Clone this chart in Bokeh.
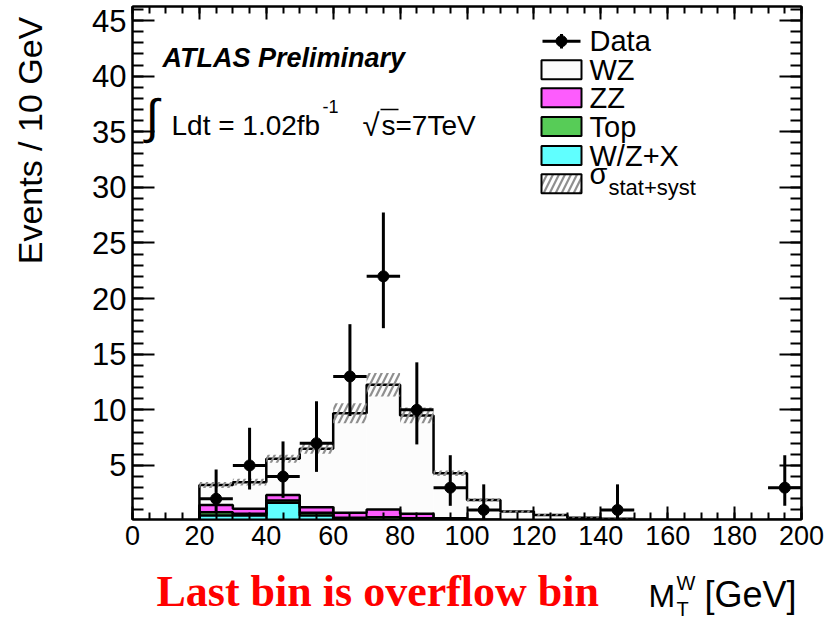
import numpy as np
from bokeh.plotting import figure
from bokeh.layouts import column
from bokeh.models import (Label, LinearAxis, SingleIntervalTicker, Range1d, ColumnDataSource,
                          CustomJSTickFormatter)
from bokeh.embed import file_html
from bokeh.resources import INLINE

# ---------------- data ----------------
bin_lo = [20, 30, 40, 50, 60, 70, 80, 90, 100, 110, 120, 130, 140, 150, 160, 170, 180, 190]
bin_width = 10
data_n = [2, 5, 4, 7, 13, 22, 10, 3, 1, 0, 0, 0, 1, 0, 0, 0, 0, 3]
data_err_lo = [1.29, 2.16, 1.91, 2.58, 3.56, 4.66, 3.11, 1.63, 0.83, 0, 0, 0, 0.83, 0, 0, 0, 0, 1.63]
data_err_hi = [2.64, 3.38, 3.16, 3.77, 4.70, 5.73, 4.27, 2.92, 2.30, 0, 0, 0, 2.30, 0, 0, 0, 0, 2.92]
mc_wzx = [0.5, 0.5, 1.65, 0.5, 0.1, 0.1, 0.05, 0.05, 0.03, 0.02, 0.01, 0.01, 0.01, 0, 0, 0, 0, 0.01]
mc_top = [0.3, 0.15, 0.2, 0.25, 0.2, 0.25, 0.2, 0.1, 0.05, 0.02, 0.01, 0.01, 0.01, 0, 0, 0, 0, 0.01]
mc_zz = [0.65, 0.45, 0.5, 0.5, 0.45, 0.7, 0.4, 0.1, 0.05, 0.03, 0.02, 0.01, 0.01, 0.01, 0.01, 0.01, 0.01, 0.02]
mc_wz = [1.8, 2.4, 3.25, 5.25, 8.95, 11.2, 8.85, 4.05, 1.77, 0.78, 0.51, 0.27, 0.17, 0.09, 0.05, 0.04, 0.04, 0.08]
mc_syst = [0.27, 0.3, 0.35, 0.45, 0.9, 1.05, 0.7, 0.25, 0.15, 0.1, 0.08, 0.05, 0.03, 0.02, 0.01, 0.01, 0.01, 0.02]
x_ticks_interval = 20
y_ticks_interval = 5

# ---------------- layout constants ----------------
W, H = 839, 619
MAIN_H = 560
FL, FR, FT, FB = 132, 801, 6, 519
XMIN, XMAX = 0, 200
YMIN, YMAX = 0.14, 46.26
FONT = "Liberation Sans"


def dx(px):
    return XMIN + (px - FL) / (FR - FL) * (XMAX - XMIN)


def dy(py):
    return YMIN + (FB - py) / (FB - FT) * (YMAX - YMIN)


lo = np.array(bin_lo, dtype=float)
hi = lo + bin_width
c1 = np.array(mc_wzx)
c2 = c1 + np.array(mc_top)
c3 = c2 + np.array(mc_zz)
c4 = c3 + np.array(mc_wz)
syst = np.array(mc_syst)


def step_xy(vals):
    xs = [lo[0]]
    ys = [0.0]
    for l, h, v in zip(lo, hi, vals):
        xs += [l, h]
        ys += [v, v]
    xs.append(hi[-1])
    ys.append(0.0)
    return xs, ys


p = figure(width=W, height=MAIN_H, x_range=Range1d(XMIN, XMAX), y_range=Range1d(YMIN, YMAX),
           output_backend="svg", toolbar_location=None,
           min_border_left=FL, min_border_right=W - FR, min_border_top=FT,
           min_border_bottom=MAIN_H - FB)
p.xgrid.visible = False
p.ygrid.visible = False
p.background_fill_color = "white"
p.border_fill_color = "white"
p.outline_line_color = "black"
p.outline_line_width = 2

C_WZ = "#fcfcfc"
C_ZZ = "#fd5cfd"
C_TOP = "#57cc57"
C_WZX = "#60ffff"
HATCH = dict(hatch_pattern="/", hatch_color="#8f8f8f", hatch_weight=2.2, hatch_scale=12)

# stacked fills
for top_vals, col in [(c4, C_WZ), (c3, C_ZZ), (c2, C_TOP), (c1, C_WZX)]:
    p.quad(left=lo, right=hi, bottom=np.zeros_like(lo), top=top_vals, fill_color=col, line_color=None)
for top_vals in [c4, c3, c2, c1]:
    xs, ys = step_xy(top_vals)
    p.line(xs, ys, line_color="black", line_width=2.5)

# uncertainty band
p.quad(left=lo, right=hi, bottom=c4 - syst, top=c4 + syst, fill_alpha=0, line_color=None, **HATCH)

# data
n = np.array(data_n, dtype=float)
mask = n > 0
cen = (lo + hi) / 2
src = ColumnDataSource(dict(x=cen[mask], y=n[mask], l=lo[mask], h=hi[mask],
                            y0=(n - np.array(data_err_lo))[mask], y1=(n + np.array(data_err_hi))[mask]))
p.segment(x0="l", x1="h", y0="y", y1="y", source=src, line_color="black", line_width=3)
p.segment(x0="x", x1="x", y0="y0", y1="y1", source=src, line_color="black", line_width=3)
p.scatter(x="x", y="y", source=src, size=11, marker="circle", fill_color="black", line_color="black")

# axes
for ax in p.xaxis:
    ax.ticker = SingleIntervalTicker(interval=x_ticks_interval, num_minor_ticks=4)
    ax.major_tick_in = 13
    ax.major_tick_out = 0
    ax.minor_tick_in = 7
    ax.minor_tick_out = 0
    ax.axis_line_width = 2
    ax.major_tick_line_width = 2
    ax.minor_tick_line_width = 2
    ax.major_label_text_font = FONT
    ax.major_label_text_font_size = "27px"
    ax.major_label_text_color = "black"
    ax.major_label_standoff = 6
for ax in p.yaxis:
    ax.ticker = SingleIntervalTicker(interval=y_ticks_interval, num_minor_ticks=5)
    ax.major_tick_in = 22
    ax.major_tick_out = 0
    ax.minor_tick_in = 11
    ax.minor_tick_out = 0
    ax.axis_line_width = 2
    ax.major_tick_line_width = 2
    ax.minor_tick_line_width = 2
    ax.major_label_text_font = FONT
    ax.major_label_text_font_size = "31px"
    ax.major_label_text_color = "black"
    ax.major_label_standoff = 6

blank = CustomJSTickFormatter(code="return ''")
ax_r = LinearAxis(ticker=SingleIntervalTicker(interval=y_ticks_interval, num_minor_ticks=5),
                  major_tick_in=22, major_tick_out=0, minor_tick_in=11, minor_tick_out=0,
                  axis_line_width=2, major_tick_line_width=2, minor_tick_line_width=2,
                  formatter=blank, major_label_standoff=0)
p.add_layout(ax_r, "right")
ax_t = LinearAxis(ticker=SingleIntervalTicker(interval=x_ticks_interval, num_minor_ticks=4),
                  major_tick_in=13, major_tick_out=0, minor_tick_in=7, minor_tick_out=0,
                  axis_line_width=2, major_tick_line_width=2, minor_tick_line_width=2,
                  formatter=blank, major_label_standoff=0)
p.add_layout(ax_t, "above")


def make_label(text, x, y, size, font=FONT, style="normal", color="black", align="left", angle=0):
    return Label(x=x, y=y, text=text, text_font=font, text_font_size=f"{size}px",
                 text_font_style=style, text_color=color, text_align=align,
                 text_baseline="middle", angle=angle)


def lab(fig, text, px, py, size, **kw):
    # py = text baseline in canvas pixels; anchor at the middle of the capitals
    fig.add_layout(make_label(text, dx(px), dy(py - 0.36 * size), size, **kw))


# texts inside the frame
lab(p, "ATLAS Preliminary", 162, 67, 27, style="bold italic")
lab(p, "\u222b", 145, 133, 48)
lab(p, "Ldt = 1.02fb", 171, 135, 28)
lab(p, "-1", 322, 112, 18)
lab(p, "\u221a", 362, 136, 31)
lab(p, "s=7TeV", 381, 135, 28)
p.segment(x0=[dx(380)], x1=[dx(398)], y0=[dy(109)], y1=[dy(109)], line_color="black", line_width=1.6)

# y-axis title, kept in the left side panel (not clipped)
p.add_layout(make_label("Events / 10 GeV", dx(42 - 0.36 * 34), dy(140), 34, align="center",
                        angle=np.pi / 2), "left")

# legend
leg_rows = [("Data", 40.7), ("WZ", 69.3), ("ZZ", 97.3), ("Top", 126.0), ("W/Z+X", 155.0)]
for name, yc in leg_rows:
    lab(p, name, 589, yc + 10.5, 29)
box_x0, box_x1 = 541, 581
for col, yc in [(C_WZ, 69.3), (C_ZZ, 97.3), (C_TOP, 126.0), (C_WZX, 155.0)]:
    p.quad(left=[dx(box_x0)], right=[dx(box_x1)], bottom=[dy(yc + 9.5)], top=[dy(yc - 9.5)],
           fill_color=col, line_color="black", line_width=2)
p.quad(left=[dx(box_x0)], right=[dx(box_x1)], bottom=[dy(183.3 + 9.5)], top=[dy(183.3 - 9.5)],
       fill_color="white", line_color="black", line_width=2, **HATCH)
lab(p, "\u03c3", 589, 184, 29)
lab(p, "stat+syst", 608, 195, 22)
# data legend marker
p.segment(x0=[dx(542)], x1=[dx(580)], y0=[dy(40.7)], y1=[dy(40.7)], line_color="black", line_width=3)
p.segment(x0=[dx(561)], x1=[dx(561)], y0=[dy(33.5)], y1=[dy(48)], line_color="black", line_width=3)
p.scatter(x=[dx(561)], y=[dy(40.7)], size=11, marker="circle", fill_color="black", line_color="black")

# ---------------- bottom strip with the x title and the note ----------------
# (its frame is aligned with the main frame by the column layout, so the same x mapping applies)
pb = figure(width=W, height=H - MAIN_H, x_range=Range1d(XMIN, XMAX), y_range=Range1d(H, MAIN_H),
            output_backend="svg", toolbar_location=None, x_axis_location=None, y_axis_location=None,
            min_border=0)
pb.xgrid.visible = False
pb.ygrid.visible = False
pb.outline_line_color = None
pb.background_fill_color = "white"
pb.border_fill_color = "white"


def blab(text, px, py, size, **kw):
    pb.add_layout(make_label(text, dx(px), py - 0.36 * size, size, **kw))


blab("Last bin is overflow bin", 156, 607, 44, font="Liberation Serif", style="bold", color="#ff0000")
blab("M", 648, 607, 32)
blab("T", 676, 616, 20)
blab("W", 676, 590, 20)
blab("[GeV]", 704, 607, 36)

layout = column(p, pb, spacing=0)
open("out.html", "w").write(file_html(layout, INLINE))
